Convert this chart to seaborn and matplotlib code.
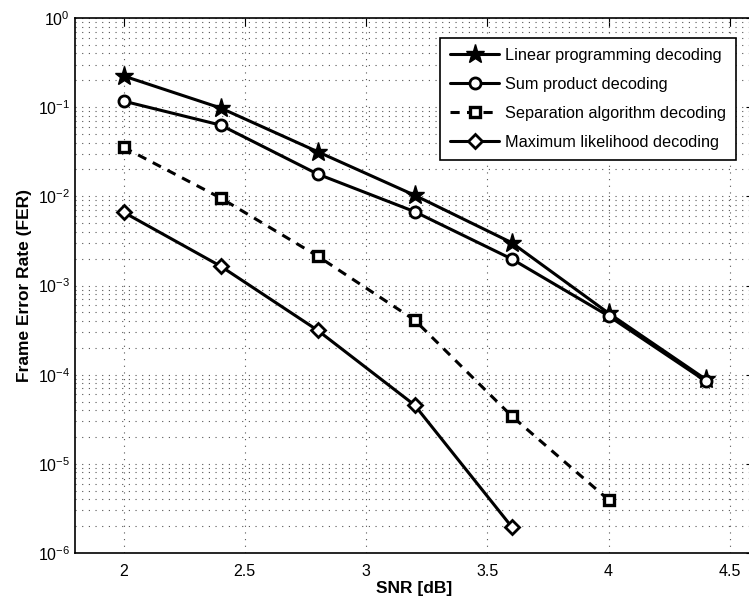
import numpy as np
import pandas as pd
import matplotlib
matplotlib.use("Agg")
import matplotlib.pyplot as plt
import seaborn as sns
from matplotlib.ticker import LogLocator, FixedLocator, NullFormatter

# ---- data ----
snr_lp = [2.0, 2.4, 2.8, 3.2, 3.6, 4.0, 4.4]
fer_lp = [0.224, 0.098, 0.0317, 0.0103, 0.00303, 0.00049, 0.000089]

snr_sp = [2.0, 2.4, 2.8, 3.2, 3.6, 4.0, 4.4]
fer_sp = [0.117, 0.063, 0.0178, 0.00674, 0.00199, 0.000456, 0.000085]

snr_sep = [2.0, 2.4, 2.8, 3.2, 3.6, 4.0]
fer_sep = [0.0355, 0.0096, 0.00214, 0.000411, 0.0000345, 0.00000395]

snr_ml = [2.0, 2.4, 2.8, 3.2, 3.6]
fer_ml = [0.00664, 0.00165, 0.000315, 0.0000457, 0.00000198]

labels = ["Linear programming decoding", "Sum product decoding",
          "Separation algorithm decoding", "Maximum likelihood decoding"]
xticks = [2, 2.5, 3, 3.5, 4, 4.5]
xticklabels = ["2", "2.5", "3", "3.5", "4", "4.5"]

sns.set_style("white")
plt.rcParams['font.family'] = ['Liberation Sans', 'DejaVu Sans']
plt.rcParams['mathtext.fontset'] = 'custom'
plt.rcParams['mathtext.rm'] = 'Liberation Sans'
plt.rcParams['mathtext.it'] = 'Liberation Sans:italic'
plt.rcParams['mathtext.bf'] = 'Liberation Sans:bold'
plt.rcParams['text.color'] = 'black'
plt.rcParams['axes.labelcolor'] = 'black'
plt.rcParams['xtick.color'] = 'black'
plt.rcParams['ytick.color'] = 'black'

fig = plt.figure(figsize=(7.49, 6.05), dpi=100)
ax = fig.add_axes([75/749, 52/605, 679/749, 535/605])

lw = 2.2
df_lp = pd.DataFrame({"snr": snr_lp, "fer": fer_lp})
df_sp = pd.DataFrame({"snr": snr_sp, "fer": fer_sp})
df_sep = pd.DataFrame({"snr": snr_sep, "fer": fer_sep})
df_ml = pd.DataFrame({"snr": snr_ml, "fer": fer_ml})

sns.lineplot(data=df_lp, x="snr", y="fer", ax=ax, color="black", lw=lw,
             marker="*", markersize=14, markerfacecolor="black",
             markeredgecolor="black", markeredgewidth=1, label=labels[0])
sns.lineplot(data=df_sp, x="snr", y="fer", ax=ax, color="black", lw=lw,
             marker="o", markersize=8, markerfacecolor="white",
             markeredgecolor="black", markeredgewidth=2, label=labels[1])
sns.lineplot(data=df_sep, x="snr", y="fer", ax=ax, color="black", lw=lw,
             linestyle=(0, (3.0, 2.4)),
             marker="s", markersize=7, markerfacecolor="white",
             markeredgecolor="black", markeredgewidth=2.4, label=labels[2])
sns.lineplot(data=df_ml, x="snr", y="fer", ax=ax, color="black", lw=lw,
             marker="D", markersize=7.5, markerfacecolor="white",
             markeredgecolor="black", markeredgewidth=2, label=labels[3])

ax.set_yscale("log")
ax.set_ylim(1e-6, 1)
ax.set_xlim(1.8, 4.6)

ax.xaxis.set_major_locator(FixedLocator(xticks))
ax.set_xticklabels(xticklabels)
ax.yaxis.set_major_locator(LogLocator(base=10, numticks=10))
ax.yaxis.set_minor_locator(LogLocator(base=10, subs=np.arange(2, 10), numticks=20))
ax.yaxis.set_minor_formatter(NullFormatter())

ax.tick_params(axis="both", which="both", direction="in", top=True, right=True,
               labelsize=11.5, colors="black", labelcolor="black")
ax.tick_params(axis="both", which="major", length=6, width=0.8)
ax.tick_params(axis="y", which="minor", length=3, width=0.6)
ax.tick_params(axis="x", pad=8)

gstyle = dict(color="#555555", linestyle=(0, (1, 5)), linewidth=0.8)
ax.grid(True, which="major", axis="both", **gstyle)
ax.grid(True, which="minor", axis="y", **gstyle)

for s in ax.spines.values():
    s.set_color("black")
    s.set_linewidth(1.2)

ax.set_xlabel("SNR [dB]", fontsize=12.5, fontweight="bold", labelpad=1, color="black")
ax.set_ylabel("Frame Error Rate (FER)", fontsize=12.5, fontweight="bold", labelpad=4,
              color="black")

leg = ax.legend(loc="upper right", bbox_to_anchor=((736-75)/679, (553-38)/535),
                borderaxespad=0, fontsize=11.7, frameon=True, fancybox=False,
                edgecolor="black", framealpha=1, handlelength=3.0,
                labelspacing=0.86, borderpad=0.62, handletextpad=0.37)
leg.get_frame().set_linewidth(1.2)
for t in leg.get_texts():
    t.set_color("black")

fig.savefig("out.png", dpi=100)
